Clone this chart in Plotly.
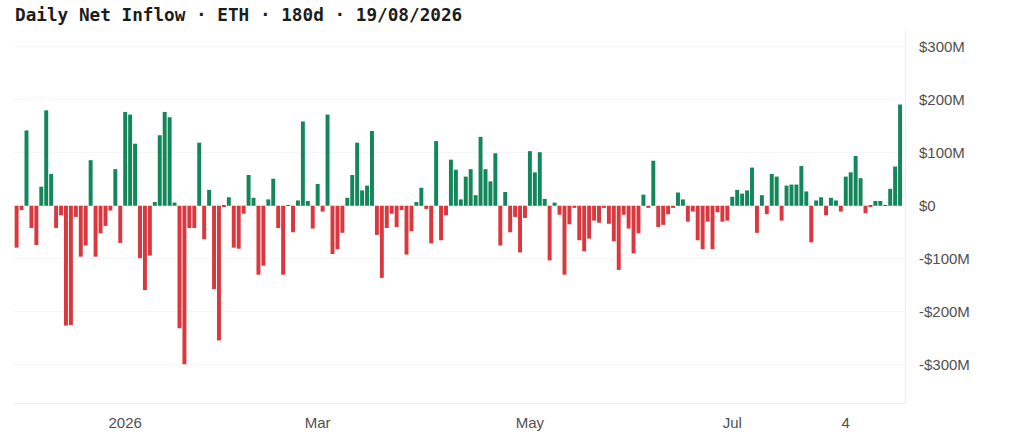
import plotly.graph_objects as go

# daily net flows in $M
flows = [-79, -8, 142, -42, -74, 36, 180, 60, -42, -18,
    -226, -225, -21, -96, -75, 86, -96, -52, -38, -9,
    69, -70, 177, 172, 117, -99, -159, -94, 7, 133,
    177, 167, 6, -231, -299, -42, -42, 119, -63, 30,
    -157, -254, -1, 16, -79, -81, -15, 58, 15, -130,
    -113, 12, 51, -42, -130, 1, -50, 10, 159, 9,
    -43, 41, -11, 172, -91, -82, -51, 15, 58, 119,
    29, 38, 141, -55, -136, -42, -15, -40, -8, -92,
    -48, 7, 34, -6, -71, 122, -65, -18, 87, 68,
    12, 55, 69, 20, 130, 69, 46, 99, -75, 26,
    -50, -21, -88, -23, 103, 63, 101, 13, -103, 6,
    -17, -130, -35, -4, -65, -86, -62, -28, -32, -4,
    -34, -67, -121, -17, -43, -90, -52, 21, -4, 85,
    -40, -36, -16, -4, 25, 12, -30, -11, -65, -82,
    -30, -82, -12, -30, -28, 17, 30, 23, 29, 72,
    -51, 20, -16, 60, 55, -28, 38, 40, 40, 75,
    27, -69, 10, 16, -18, 15, 10, -11, 55, 63,
    94, 52, -14, -1, 9, 9, 1, 32, 74, 191]
bars = list(range(len(flows)))

x_ticks = [22, 61, 104, 145, 168]
x_labels = ["2026", "Mar", "May", "Jul", "4"]
y_ticks = [-300, -200, -100, 0, 100, 200, 300]
y_labels = ["-$300M", "-$200M", "-$100M", "$0", "$100M", "$200M", "$300M"]

GREEN = "#12875a"
RED = "#da383e"
colors = [GREEN if v >= 0 else RED for v in flows]

fig = go.Figure(go.Bar(x=bars, y=flows, marker_color=colors, marker_line_width=0))

fig.update_layout(
    width=1024,
    height=443,
    margin=dict(l=14, r=119, t=30, b=40),
    paper_bgcolor="white",
    plot_bgcolor="white",
    bargap=0.2,
    showlegend=False,
    font=dict(family="Liberation Sans", size=15, color="#505050"),
    title=dict(
        text="<b>Daily Net Inflow · ETH · 180d · 19/08/2026</b>",
        font=dict(family="DejaVu Sans Mono", size=17.7, color="#1c1c1c"),
        x=15 / 1024,
        xanchor="left",
        y=1 - 15 / 443,
        yanchor="middle",
    ),
)
fig.update_xaxes(
    range=[-0.53, 180],
    tickmode="array",
    tickvals=x_ticks,
    ticktext=x_labels,
    ticks="outside",
    ticklen=6,
    tickcolor="white",
    showgrid=False,
    zeroline=False,
    showline=True,
    linecolor="#ececec",
    linewidth=1,
)
fig.update_yaxes(
    range=[-372, 331.5],
    side="right",
    tickmode="array",
    tickvals=y_ticks,
    ticktext=y_labels,
    ticks="outside",
    ticklen=10,
    tickcolor="white",
    showgrid=True,
    gridcolor="#f6f6f6",
    zeroline=False,
    showline=True,
    linecolor="#ececec",
    linewidth=1,
)

# drop the page's default body margin so the figure fills the window
fig.write_html(
    "out.html",
    config={"displayModeBar": False},
    post_script="document.body.style.margin = '0';",
)
